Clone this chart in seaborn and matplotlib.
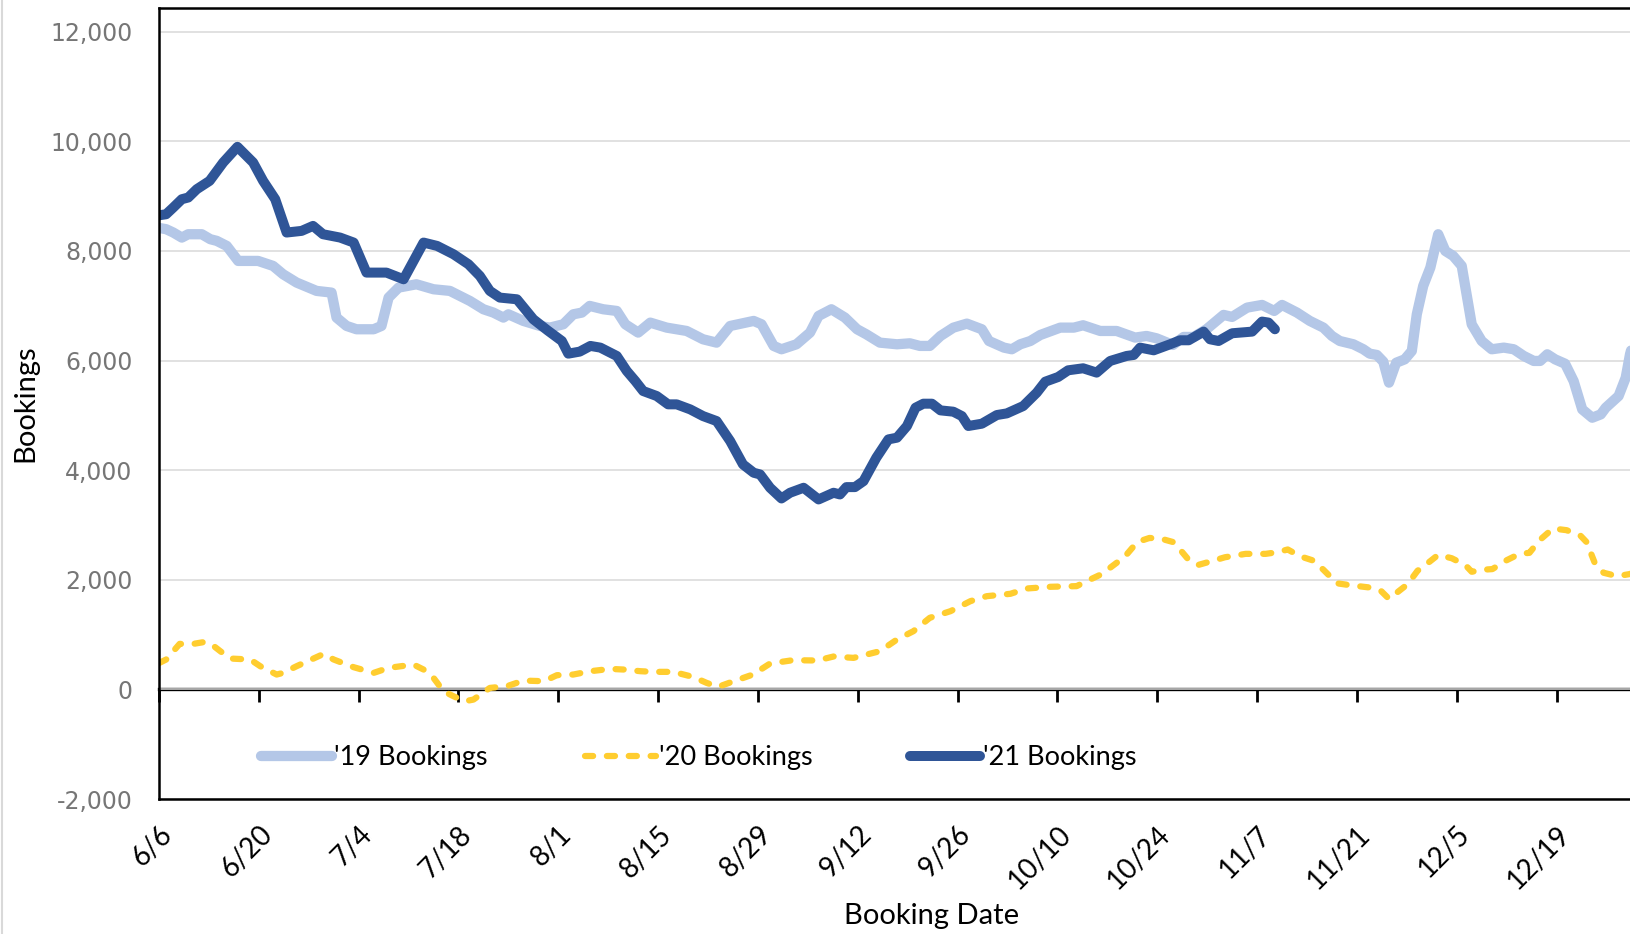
import matplotlib
matplotlib.use('Agg')  # no display
import matplotlib.pyplot as plt
import pandas as pd
import seaborn as sns

# '19 bookings (light blue), day offset from 6/6
days_19 = [0, 1, 2, 3.2, 4.1, 6, 7.2, 8.1, 9.5, 11.1, 13.9, 16, 17.4, 19.3, 22.1, 24.2, 24.9,
           26.3, 27.7, 30.1, 31.2, 32.2, 33.6, 36.1, 38.5, 40.8, 43.6, 45.5, 46.9, 48.3, 49.0,
           51.1, 53.4, 54.8, 56.7, 58.1, 59.3, 60.4, 62.3, 64.2, 65.4, 67.2, 68.9, 71.2, 74.0,
           76.3, 78.2, 80.1, 83.4, 84.5, 86.2, 87.3, 89.4, 91.3, 92.5, 94.3, 96.2, 97.9, 99.2,
           101.1, 103.5, 105.3, 106.7, 108.1, 109.6, 111.4, 113.3, 115.4, 116.4, 118.5, 119.6,
           120.8, 122.2, 123.6, 126.4, 128.3, 129.6, 132.0, 134.3, 136.9, 138.5, 139.9, 142.2,
           143.7, 145.1, 146.9, 149.3, 150.5, 152.6, 154.7, 156.4, 157.5, 159.6, 161.4, 163.3,
           164.5, 165.6, 167.5, 168.9, 169.8, 170.8, 171.7, 172.5, 173.5, 174.7, 175.7, 176.4,
           177.3, 178.3, 179.4, 180.4, 181.5, 182.7, 184.1, 185.5, 186.9, 188.6, 190.0, 191.4,
           192.8, 193.7, 194.7, 195.8, 197.2, 198.4, 199.6, 201.0, 202.2, 202.9, 204.7, 205.7,
           206.3, 207.5]
bookings_19 = [8420, 8397, 8336, 8244, 8305, 8305, 8214, 8184, 8092, 7818, 7818, 7727, 7575, 7423,
               7271, 7240, 6784, 6632, 6571, 6571, 6632, 7149, 7331, 7392, 7301, 7271, 7088, 6936,
               6875, 6784, 6844, 6723, 6632, 6601, 6662, 6844, 6875, 6997, 6936, 6905, 6662, 6510,
               6692, 6601, 6540, 6388, 6327, 6631, 6723, 6662, 6267, 6206, 6297, 6510, 6814, 6936,
               6784, 6571, 6479, 6327, 6297, 6315, 6267, 6267, 6449, 6600, 6674, 6571, 6357, 6236,
               6206, 6297, 6357, 6467, 6601, 6601, 6644, 6540, 6540, 6419, 6449, 6406, 6285, 6431,
               6431, 6571, 6833, 6796, 6966, 7015, 6905, 7015, 6875, 6723, 6601, 6449, 6357, 6297,
               6206, 6126, 6102, 5980, 5597, 5960, 6022, 6175, 6845, 7362, 7697, 8305, 8000, 7910,
               7727, 6662, 6357, 6206, 6236, 6206, 6084, 5993, 5993, 6114, 6022, 5942, 5625, 5109,
               4957, 5018, 5140, 5353, 5688, 6114, 6700]

# '20 bookings (yellow, dashed)
days_20 = [0, 1.0, 2.9, 4.3, 6.2, 7.1, 8.6, 10.0, 12.8, 14.2, 16.5, 17.4, 19.3, 23.1, 24.5, 27.3,
           30.1, 31.5, 32.9, 35.7, 37.1, 38.5, 39.9, 41.3, 42.9, 44.1, 46.4, 48.8, 51.1, 54.0,
           55.8, 58.1, 60.5, 63.3, 65.2, 67.5, 69.3, 72.1, 74.9, 76.8, 78.4, 80.6, 83.3, 85.7,
           88.9, 92.3, 94.6, 97.4, 101.1, 103.5, 105.8, 108.1, 111.0, 113.8, 116.1, 119.4, 121.7,
           125.0, 128.7, 130.1, 132.2, 134.4, 135.5, 137.2, 138.9, 140.5, 142.2, 143.1, 144.3,
           145.7, 147.9, 149.5, 152.4, 155.2, 156.9, 158.3, 160.0, 161.9, 163.3, 165.2, 167.1,
           170.0, 171.4, 172.5, 173.7, 175.1, 176.5, 178.2, 179.4, 181.3, 183.2, 184.1, 185.6,
           187.0, 188.9, 190.8, 192.2, 193.6, 195.5, 197.4, 199.3, 200.2, 201.4, 202.6, 204.5,
           206.2, 207.5]
bookings_20 = [480, 545, 831, 819, 861, 849, 697, 563, 545, 423, 271, 301, 423, 648, 545, 405,
               301, 362, 405, 453, 362, 210, -33, -125, -216, -186, 27, 58, 161, 149, 259, 271,
               332, 374, 362, 332, 320, 320, 228, 119, 46, 149, 271, 472, 533, 527, 600, 575, 697,
               910, 1062, 1306, 1427, 1610, 1701, 1744, 1841, 1872, 1884, 1975, 2103, 2319, 2430,
               2689, 2763, 2751, 2689, 2566, 2380, 2269, 2350, 2411, 2473, 2473, 2504, 2553, 2430,
               2350, 2183, 1936, 1900, 1856, 1794, 1652, 1775, 1918, 2164, 2331, 2455, 2393, 2270,
               2146, 2183, 2195, 2350, 2473, 2492, 2720, 2936, 2905, 2812, 2689, 2294, 2128, 2066,
               2103, 2150]

# '21 bookings (dark blue)
days_21 = [0, 1, 2, 3.2, 4.1, 5.3, 7.1, 9.0, 11.0, 13.2, 14.6, 16.3, 17.9, 20.0, 21.6, 23.0,
           25.4, 27.3, 29.1, 31.9, 34.3, 37.1, 39.0, 41.3, 43.4, 45.0, 46.4, 47.8, 50.2, 52.5,
           54.5, 56.5, 57.4, 59.0, 60.5, 61.9, 64.2, 65.6, 66.8, 67.9, 69.8, 71.4, 72.6, 74.5,
           76.3, 78.2, 80.1, 81.9, 83.4, 84.3, 85.7, 87.3, 88.5, 90.4, 92.5, 94.6, 95.5, 96.4,
           97.6, 98.8, 100.6, 102.3, 103.5, 104.9, 106.1, 107.2, 108.4, 109.6, 111.4, 112.6,
           113.5, 115.4, 117.5, 118.9, 121.2, 123.1, 124.3, 126.1, 127.5, 129.6, 131.5, 133.4,
           135.7, 136.7, 137.6, 139.5, 141.8, 143.2, 144.4, 146.5, 147.4, 148.6, 150.5, 153.3,
           154.7, 155.6, 156.5]
bookings_21 = [8650, 8670, 8792, 8944, 8975, 9127, 9279, 9614, 9900, 9614, 9279, 8944, 8336, 8366,
               8457, 8305, 8244, 8153, 7605, 7605, 7483, 8153, 8092, 7940, 7757, 7544, 7271, 7149,
               7118, 6753, 6550, 6357, 6126, 6163, 6267, 6236, 6084, 5810, 5627, 5444, 5353, 5201,
               5201, 5109, 4987, 4896, 4532, 4105, 3953, 3922, 3679, 3484, 3588, 3679, 3466, 3588,
               3557, 3691, 3691, 3800, 4227, 4562, 4593, 4806, 5140, 5213, 5213, 5091, 5067, 4987,
               4806, 4848, 5006, 5036, 5170, 5414, 5615, 5700, 5822, 5859, 5780, 5993, 6084, 6102,
               6236, 6187, 6297, 6370, 6370, 6528, 6388, 6357, 6498, 6528, 6711, 6693, 6571]

tick_days = list(range(0, 197, 14))
tick_labels = ['6/6', '6/20', '7/4', '7/18', '8/1', '8/15', '8/29', '9/12', '9/26', '10/10',
               '10/24', '11/7', '11/21', '12/5', '12/19']
y_ticks = list(range(-2000, 12001, 2000))

LIGHT = '#b4c7e7'
YELLOW = '#ffcd2f'
DARK = '#2f5597'

sns.set_theme(style='white')
plt.rcParams['font.family'] = ['Lato', 'DejaVu Sans']

W, H = 1630, 934
fig = plt.figure(figsize=(W / 100, H / 100), dpi=100)
ax = fig.add_axes([159 / W, 1 - 799 / H, 1 - 159 / W, (799 - 8) / H])

df19 = pd.DataFrame({'day': days_19, 'bookings': bookings_19})
df20 = pd.DataFrame({'day': days_20, 'bookings': bookings_20})
df21 = pd.DataFrame({'day': days_21, 'bookings': bookings_21})

sns.lineplot(data=df19, x='day', y='bookings', ax=ax, estimator=None, sort=False,
             color=LIGHT, lw=7.4, solid_capstyle='round', label="'19 Bookings")
sns.lineplot(data=df20, x='day', y='bookings', ax=ax, estimator=None, sort=False,
             color=YELLOW, lw=4.5, ls=(0, (1.3, 2.2)), dash_capstyle='round',
             label="'20 Bookings")
sns.lineplot(data=df21, x='day', y='bookings', ax=ax, estimator=None, sort=False,
             color=DARK, lw=7.2, solid_capstyle='round', label="'21 Bookings")

ymin, ymax = -2000, 12433
ax.set_xlim(0, 206.3)
ax.set_ylim(ymin, ymax)

# y axis
ax.set_yticks(y_ticks)
ax.set_yticklabels([f'{v:,}' for v in y_ticks], family='DejaVu Sans', fontsize=17,
                   color='#767676')
ax.tick_params(axis='y', length=0, pad=19)
ax.yaxis.grid(True, color='#d9d9d9', lw=1.1)
ax.xaxis.grid(False)

# x tick labels along the bottom frame
ax.set_xticks(tick_days)
ax.set_xticklabels(tick_labels, rotation=45, ha='right', va='top', rotation_mode='anchor',
                   fontsize=20, color='black')
ax.tick_params(axis='x', length=0, pad=16)

# zero line with the tick marks
zero_axis = ax.secondary_xaxis((0 - ymin) / (ymax - ymin))
zero_axis.set_xticks(tick_days)
zero_axis.set_xticklabels([])
zero_axis.tick_params(length=9, width=2, color='black', direction='out')
zero_axis.spines['bottom'].set_linewidth(2.4)
zero_axis.spines['bottom'].set_color('black')

for side in ['left', 'top', 'bottom']:
    ax.spines[side].set_color('black')
    ax.spines[side].set_linewidth(1.8)
ax.spines['right'].set_visible(False)

ax.set_xlabel('Booking Date', fontsize=21, color='black')
ax.xaxis.set_label_coords(0.5255, -0.132)
ax.set_ylabel('Bookings', fontsize=21, color='black')
ax.yaxis.set_label_coords(-0.0823, 0.5)

leg = ax.legend(loc='center', bbox_to_anchor=(0.367, 0.052), ncol=3, frameon=False,
                fontsize=19.5, handlelength=2.6, handletextpad=0.1, columnspacing=3.6)
for t in leg.get_texts():
    t.set_color('black')

fig.add_artist(plt.Line2D([0.0015, 0.0015], [0, 1], color='#d9d9d9', lw=1.5,
                          transform=fig.transFigure))

fig.savefig('out.png', dpi=100)
